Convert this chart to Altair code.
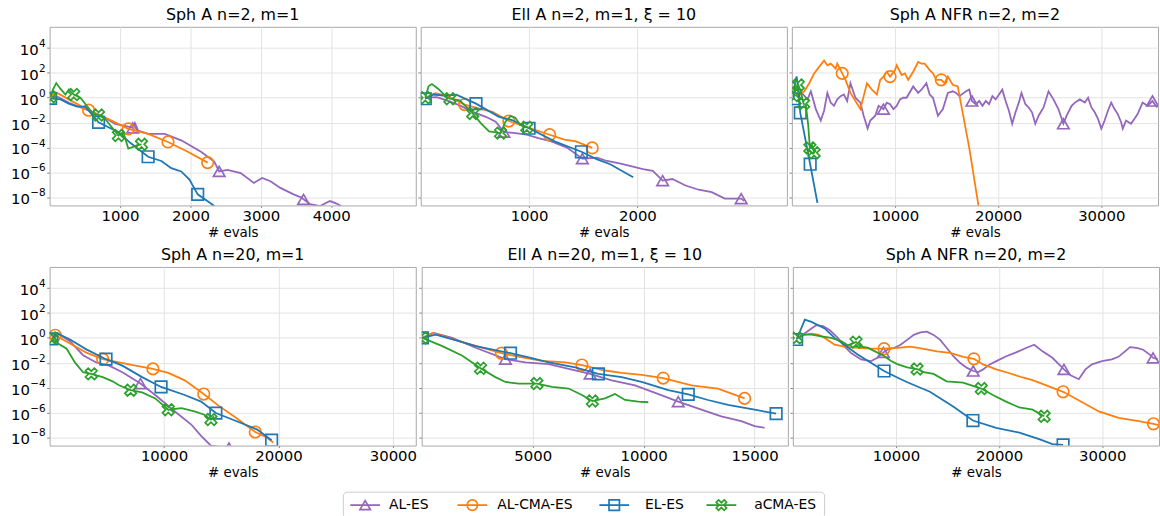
import altair as alt
import pandas as pd

SERIES = ["AL-ES", "AL-CMA-ES", "EL-ES", "aCMA-ES"]
COLORS = ["#9467bd", "#ff7f0e", "#1f77b4", "#2ca02c"]
# thick "X" marker outline in unit coordinates
X_PATH = ("M0.54,-1L1,-0.54L0.46,0L1,0.54L0.54,1L0,0.46L-0.54,1L-1,0.54"
          "L-0.46,0L-1,-0.54L-0.54,-1L0,-0.46Z")
SHAPES = ["triangle-up", "circle", "square", X_PATH]

PANEL_TITLES = [
    "Sph A n=2, m=1", "Ell A n=2, m=1, ξ = 10", "Sph A NFR n=2, m=2",
    "Sph A n=20, m=1", "Ell A n=20, m=1, ξ = 10", "Sph A NFR n=20, m=2",
]
X_MAX = [5200, 3380, 35500, 32000, 16500, 35500]
X_TICKS = [
    [1000, 2000, 3000, 4000], [1000, 2000], [10000, 20000, 30000],
    [10000, 20000, 30000], [5000, 10000, 15000], [10000, 20000, 30000],
]
Y_EXPONENTS = [-8, -6, -4, -2, 0, 2, 4]
Y_LOG_RANGE = [-8.65, 5.7]

# Each curve: list of (evals, log10 f) pairs, then the evals where a marker sits.
SPH2_M1 = {
    "AL-ES": ([(0, 0.1), (125, 0.05), (275, -0.4), (507, -0.92), (742, -1.45), (930, -2.1),
               (1164, -2.37), (1180, -2.42), (1211, -2.03), (1258, -2.63), (1399, -2.9),
               (1634, -2.9), (1869, -3.42), (2150, -4.34), (2338, -5.13), (2408, -5.92),
               (2526, -5.79), (2714, -6.05), (2901, -6.84), (3019, -6.45), (3136, -6.71),
               (3277, -7.24), (3465, -7.76), (3582, -8.03), (3606, -8.16), (3700, -8.55),
               (3840, -8.7), (3981, -8.3), (4075, -8.5), (4169, -8.8)],
              [1180, 2408, 3606]),
    "AL-CMA-ES": ([(0, 0.13), (108, 0.39), (272, -0.13), (554, -1.0), (836, -1.71),
                   (1117, -2.5), (1399, -2.9), (1681, -3.55), (1962, -4.34), (2244, -5.21)],
                  [554, 1117, 1681, 2244]),
    "EL-ES": ([(14, -0.05), (155, -0.13), (272, -0.47), (390, -0.71), (507, -0.71),
               (695, -1.97), (836, -2.37), (977, -2.76), (1141, -3.6), (1399, -4.74),
               (1587, -5.08), (1728, -5.66), (1869, -5.92), (1986, -6.58), (2103, -7.76),
               (2291, -8.5), (2338, -8.7)],
              [14, 695, 1399, 2103]),
    "aCMA-ES": ([(14, 0.08), (47, 0.66), (94, 1.18), (155, 0.71), (225, 0.26), (272, 0.66),
                 (343, 0.26), (437, 0.0), (530, -0.66), (624, -1.32), (695, -1.39),
                 (789, -1.71), (883, -2.37), (977, -3.03), (1047, -2.76), (1117, -4.08),
                 (1188, -3.95), (1235, -3.82), (1305, -3.74)],
                [14, 343, 695, 977, 1305]),
}

ELL2_M1 = {
    "AL-ES": ([(42, 0), (148, 0.05), (239, -0.21), (360, -0.61), (480, -1.13), (601, -1.53),
               (692, -1.92), (767, -2.76), (873, -2.84), (979, -2.97), (1085, -3.24),
               (1205, -3.5), (1356, -4.03), (1492, -4.89), (1628, -4.82), (1719, -5.08),
               (1825, -5.26), (1931, -5.47), (2051, -5.74), (2142, -5.87), (2233, -6.66),
               (2323, -6.53), (2444, -7.05), (2565, -7.39), (2686, -7.58), (2807, -8.1),
               (2958, -8.1), (2988, -8.29)],
              [767, 1492, 2233, 2958]),
    "AL-CMA-ES": ([(42, 0), (133, 0.37), (239, 0.18), (405, -0.55), (541, -0.87),
                   (662, -1.13), (813, -1.87), (964, -2.32), (1190, -2.97), (1326, -3.37),
                   (1432, -3.5), (1583, -4.03)],
                  [405, 813, 1190, 1583]),
    "EL-ES": ([(42, -0.08), (118, 0.26), (208, 0.18), (329, 0.24), (510, -0.47),
               (722, -1.53), (843, -1.79), (1000, -2.45), (1236, -3.5), (1483, -4.34),
               (1628, -4.95), (1749, -5.34), (1961, -6.39)],
              [42, 510, 1000, 1483]),
    "aCMA-ES": ([(42, 0), (72, 0.92), (103, 1.1), (163, 0.71), (239, 0.05), (269, -0.08),
                 (360, -0.21), (480, -1.26), (556, -2.05), (631, -2.71), (737, -2.84),
                 (782, -1.92), (828, -1.47), (873, -1.6), (918, -2.18), (979, -2.37),
                 (1009, -2.45)],
                [42, 269, 480, 737, 979]),
}

NFR2_M2 = {
    "AL-ES": ([(240, 0.18), (1000, 0.35), (1523, -0.13), (1843, 0.52), (2323, -0.91),
               (2803, -1.83), (3123, -1.04), (3443, 0.39), (3763, -0.39), (4083, -0.65),
               (4403, -0.13), (4723, 0.13), (5043, 0.26), (5363, -0.26), (5683, 1.17),
               (6163, 0.0), (6643, -0.39), (6963, -1.44), (7347, -2.48), (7603, -1.83),
               (8083, -1.44), (8403, -0.65), (8883, -0.91), (9203, -0.39), (9523, -0.52),
               (9843, -0.91), (10163, -0.65), (10483, -0.13), (10803, 0.0), (11123, 0.0),
               (11763, 0.91), (12243, 0.39), (12563, 0.65), (13043, 1.17), (13363, 0.26),
               (13683, 0.0), (14163, -1.44), (14643, -0.91), (15123, 0.39), (15603, 0.52),
               (15923, 0.39), (16243, 0.13), (16883, 0.52), (17203, 0.65), (17459, -0.26),
               (17843, -0.52), (18163, -0.26), (18483, -0.65), (18803, -0.26),
               (19123, -0.52), (19443, 0.13), (19763, -0.13), (20083, 0.26), (20403, 0.65),
               (20723, -0.26), (21043, -1.04), (21363, -2.09), (21683, -1.17),
               (22003, -0.39), (22259, 0.39), (22643, -0.52), (22963, -0.78),
               (23283, -1.17), (23603, -2.09), (23923, -1.44), (24403, -0.78), (24883, 0.52),
               (25363, -0.13), (25843, -0.91), (26323, -2.09), (26643, -1.44),
               (27123, -0.65), (27443, -0.39), (27923, -0.13), (28403, -0.39), (28723, 0.0),
               (29043, -0.78), (29363, -1.17), (29683, -1.70), (30003, -2.48),
               (30323, -1.83), (30643, -1.04), (30963, -0.39), (31283, -0.91),
               (31603, -1.31), (31923, -1.96), (32083, -2.48), (32403, -1.83),
               (32883, -2.09), (33203, -1.70), (33523, -1.31), (34003, -0.39),
               (34483, -0.65), (34963, -0.26), (35283, -0.65), (35443, -0.78)],
              [8883, 17459, 26323, 34963]),
    "AL-CMA-ES": ([(240, 0.32), (723, 0.26), (1203, 0.52), (1683, 1.17), (2163, 1.96),
                   (2643, 2.48), (3123, 3.0), (3443, 2.61), (3763, 2.74), (4243, 2.35),
                   (4403, 2.74), (4883, 1.96), (5203, 1.44), (5683, 0.39), (6163, -0.26),
                   (6643, -0.91), (6963, 0.13), (7283, 1.17), (7763, 0.65), (8243, 0.26),
                   (8563, 1.44), (8883, 1.70), (9203, 2.09), (9523, 1.70), (10003, 2.22),
                   (10163, 2.61), (10643, 1.83), (10963, 1.96), (11283, 1.44),
                   (11763, 2.09), (12243, 2.87), (12563, 2.74), (12883, 2.74),
                   (13363, 2.22), (13683, 1.96), (14003, 1.44), (14483, 1.44),
                   (14803, 1.17), (15123, 1.70), (15603, 1.04), (16083, 0.91),
                   (17203, -4.05), (18100, -8.7)],
                  [4883, 9523, 14483]),
    "EL-ES": ([(176, -0.08), (304, 1.24), (464, 1.71), (624, 0.58), (816, -1.21),
               (1776, -5.34), (2480, -8.45)],
              [176, 816, 1776]),
    "aCMA-ES": ([(176, 0.18), (400, 0.84), (624, 1.03), (880, 0.45), (1136, -0.47),
                 (1360, -0.61), (1584, -2.18), (1744, -4.03), (1936, -3.76), (2160, -4.42)],
                [176, 624, 1136, 1744, 2160]),
}

SPH20_M1 = {
    "AL-ES": ([(200, 0.08), (630, 0.39), (1780, -0.26), (2920, -1.39), (4070, -1.97),
               (5210, -2.23), (6360, -2.76), (7940, -3.67), (9230, -4.59), (10950, -5.91),
               (12380, -6.96), (13240, -7.87), (14100, -8.66), (15670, -8.85)],
              [7940, 15670]),
    "AL-CMA-ES": ([(200, 0.13), (490, 0.21), (1780, -0.45), (3210, -1.18), (4640, -1.71),
                   (6070, -1.97), (7510, -2.23), (9030, -2.49), (10370, -2.81),
                   (11810, -3.41), (13470, -4.51), (14670, -5.38), (16100, -6.3),
                   (17970, -7.56), (18970, -8.0), (19540, -8.4)],
                  [490, 4640, 9030, 13470, 17970]),
    "EL-ES": ([(200, -0.08), (630, 0.39), (1780, -0.13), (3210, -0.92), (4930, -1.71),
               (6360, -2.23), (8080, -3.15), (9740, -3.94), (11810, -4.59), (13240, -5.12),
               (14530, -6.04), (16680, -6.82), (18110, -7.35), (19400, -8.22)],
              [200, 4930, 9740, 14530, 19400]),
    "aCMA-ES": ([(200, 0), (630, -0.39), (1490, -0.87), (2210, -1.97), (2920, -2.76),
                 (3640, -2.89), (4640, -3.15), (5500, -3.49), (6070, -3.81), (7080, -4.2),
                 (8080, -4.38), (9230, -4.86), (10370, -5.77), (11520, -5.64),
                 (12660, -5.91), (13520, -6.17), (14100, -6.56), (14380, -6.3)],
                [200, 3640, 7080, 10370, 14100]),
}

ELL20_M1 = {
    "AL-ES": ([(30, 0), (550, 0.39), (1380, 0), (2430, -0.79), (3770, -1.71), (4670, -1.97),
               (5720, -2.1), (6770, -2.55), (7590, -2.89), (8560, -3.41), (9610, -3.81),
               (10580, -4.46), (11560, -5.12), (12600, -5.77), (13500, -6.3),
               (14400, -6.69), (15000, -7.09), (15450, -7.22)],
              [3770, 7590, 11560]),
    "AL-CMA-ES": ([(30, 0), (480, 0.39), (1680, -0.26), (2720, -0.79), (3590, -1.23),
                   (4520, -1.57), (5420, -1.84), (6470, -1.97), (7220, -2.18),
                   (8260, -2.62), (9010, -2.81), (9910, -2.97), (10880, -3.23),
                   (12160, -3.81), (13350, -4.07), (14550, -4.86)],
                  [3590, 7220, 10880, 14550]),
    "EL-ES": ([(30, 0), (630, 0.26), (1680, -0.26), (2430, -0.66), (4000, -1.23),
               (4820, -1.57), (5720, -1.97), (6920, -2.36), (7960, -2.89), (9010, -3.15),
               (9910, -3.54), (11110, -4.2), (12010, -4.54), (12900, -4.99),
               (13800, -5.38), (15000, -5.77), (15970, -6.09)],
              [30, 4000, 7960, 12010, 15970]),
    "aCMA-ES": ([(30, 0), (930, -0.66), (1830, -1.44), (2650, -2.44), (3320, -3.15),
                 (3770, -3.54), (4370, -3.67), (5190, -3.67), (5870, -3.94), (6620, -4.07),
                 (7220, -4.59), (7690, -5.07), (8260, -4.86), (8710, -4.51), (9160, -4.99),
                 (9760, -5.12), (10210, -5.17)],
                [30, 2650, 5190, 7690]),
}

NFR20_M2 = {
    "AL-ES": ([(525, -0.03), (1165, 0.37), (1805, 0.76), (2285, 1.03), (2925, 0.95),
               (3565, 0.63), (4365, 0.0), (5005, -0.68), (5645, -1.21), (6605, -1.73),
               (7565, -1.87), (8205, -1.60), (8781, -1.16), (9165, -0.95), (9805, -0.81),
               (10445, -0.55), (11085, -0.16), (11725, 0.24), (12365, 0.45), (13005, 0.50),
               (13645, 0.24), (14285, -0.16), (14925, -0.81), (15565, -1.47),
               (16205, -2.0), (16845, -2.39), (17485, -2.66), (17965, -2.74),
               (18445, -2.53), (19085, -2.13), (19725, -1.87), (20685, -1.47),
               (21645, -1.16), (22605, -0.81), (23405, -0.55), (24205, -1.08),
               (25165, -1.60), (25805, -2.13), (26285, -2.53), (26925, -3.0),
               (27725, -3.32), (28365, -2.53), (29005, -2.13), (29965, -1.87),
               (30925, -1.73), (31565, -1.52), (32205, -1.08), (32685, -0.74),
               (33325, -0.81), (33965, -0.95), (34605, -1.34), (34925, -1.60),
               (35405, -1.73)],
              [8781, 17485, 26285, 34925]),
    "AL-CMA-ES": ([(525, 0.0), (1165, 0.26), (1805, 0.34), (2445, 0.26), (3085, 0.0),
                   (4045, -0.55), (5005, -0.71), (6285, -0.81), (7565, -0.87),
                   (8845, -0.87), (10125, -0.81), (11405, -0.71), (12685, -0.89),
                   (13965, -1.08), (15245, -1.21), (16525, -1.52), (17549, -1.68),
                   (18445, -2.13), (19725, -2.53), (21005, -2.84), (22285, -3.18),
                   (23240, -3.4), (24700, -3.85), (26200, -4.33), (28060, -5.17),
                   (29660, -5.91), (31590, -6.43), (33520, -6.69), (34960, -6.9),
                   (35440, -7.0)],
                  [8845, 17549, 26200, 34960]),
    "EL-ES": ([(365, -0.13), (1165, 1.47), (1805, 1.29), (3085, 0.76), (4045, 0.0),
               (5005, -0.55), (6285, -1.34), (7565, -2.0), (8845, -2.66), (10125, -3.18),
               (11040, -3.54), (13290, -4.33), (15540, -5.51), (17460, -6.64),
               (19710, -7.22), (21960, -7.61), (23880, -8.14), (25170, -8.53),
               (26200, -8.6)],
              [365, 8845, 17460, 26200]),
    "aCMA-ES": ([(365, 0.0), (1005, 0.26), (1805, 0.26), (2765, 0.13), (3725, 0.0),
                 (4685, -0.26), (5325, -0.6), (6125, -0.34), (6605, -0.71), (7245, -0.79),
                 (8205, -1.18), (8845, -1.45), (9485, -1.84), (10125, -2.11),
                 (11085, -2.37), (12045, -2.5), (12685, -2.76), (13645, -2.89),
                 (14900, -3.49), (16500, -3.6), (18270, -4.07), (19390, -4.59),
                 (20670, -5.12), (21960, -5.59), (23240, -5.77), (24370, -6.3)],
                [365, 6125, 12045, 18270, 24370]),
}

PANELS = [SPH2_M1, ELL2_M1, NFR2_M2, SPH20_M1, ELL20_M1, NFR20_M2]

# legend layout, in pixels from the left of the plot column
LEG_BOX = (296, 781)
LEG_SYMBOL_X = [22, 130, 273, 381]
LEG_TEXT_X = [46, 155, 304, 414]

FONT = "DejaVu Sans"
PANEL_W = [369, 369, 369]
PANEL_H = 180
LINE_W = 1.8
TICK_FS = 15
EXP_FS = 10.5

Y_TICKS = [10.0 ** e for e in Y_EXPONENTS]
Y_SCALE = alt.Scale(type="log", domain=[10 ** Y_LOG_RANGE[0], 10 ** Y_LOG_RANGE[1]],
                    nice=False)


def curve_frame(curves):
    rows = []
    for s in SERIES:
        pts, marks = curves[s]
        for i, (e, lf) in enumerate(pts):
            rows.append({"series": s, "i": i, "evals": e, "f": 10 ** lf,
                         "marker": e in marks})
    return pd.DataFrame(rows)


def y_enc():
    return alt.Y("f:Q", scale=Y_SCALE,
                 axis=alt.Axis(values=Y_TICKS, title=None, tickSize=3, labels=False))


def power_labels():
    """Tick labels drawn as '10' with a raised exponent."""
    df = pd.DataFrame({"f": Y_TICKS,
                       "exp": [str(e).replace("-", "\u2212") for e in Y_EXPONENTS],
                       "neg": [e < 0 for e in Y_EXPONENTS]})
    base = alt.Chart(df)
    right = -4
    w_pos = 0.636 * EXP_FS
    w_neg = (0.636 + 0.838) * EXP_FS
    out = []
    for neg, w in ((False, w_pos), (True, w_neg)):
        sel = alt.datum.neg if neg else ~alt.datum.neg
        out.append(base.transform_filter(sel).mark_text(
            align="right", baseline="middle", fontSize=TICK_FS, font=FONT, color="black",
            dy=2).encode(x=alt.value(right - w - 0.3), y=y_enc(), text=alt.value("10")))
    out.append(base.mark_text(
        align="right", baseline="middle", fontSize=EXP_FS, font=FONT, color="black",
        dy=-4).encode(x=alt.value(right), y=y_enc(), text="exp:N"))
    return out


def panel(k):
    df = curve_frame(PANELS[k])
    col = k % 3
    x = alt.X("evals:Q",
              scale=alt.Scale(domain=[0, X_MAX[k]], nice=False, zero=False),
              axis=alt.Axis(values=X_TICKS[k], format="d", title="# evals",
                            tickSize=2, labelPadding=1, titlePadding=2))
    y = y_enc()
    base = alt.Chart(df)
    layers = []
    for s, c, shp in zip(SERIES, COLORS, SHAPES):
        sub = base.transform_filter(alt.datum.series == s)
        layers.append(sub.mark_line(color=c, strokeWidth=LINE_W, clip=True)
                      .encode(x=x, y=y, order="i:Q"))
        layers.append(sub.transform_filter(alt.datum.marker)
                      .mark_point(shape=shp, color=c, filled=False, size=135,
                                  strokeWidth=1.7, opacity=1, clip=True)
                      .encode(x=x, y=y))
    if col == 0:
        layers += power_labels()
    return alt.layer(*layers).properties(
        width=PANEL_W[col], height=PANEL_H,
        title=alt.TitleParams(PANEL_TITLES[k], fontSize=16, fontWeight="normal",
                              font=FONT, color="black", offset=4, anchor="middle"),
    )


row1 = alt.hconcat(panel(0), panel(1), panel(2), spacing=0)
row2 = alt.hconcat(panel(3), panel(4), panel(5), spacing=0)

# legend strip: a boxed row of line+marker samples under the panels
leg_df = pd.DataFrame({"series": SERIES,
                       "sx": [LEG_BOX[0] + v for v in LEG_SYMBOL_X],
                       "tx": [LEG_BOX[0] + v for v in LEG_TEXT_X]})
strip_w = sum(PANEL_W)
leg_color = alt.Color("series:N", scale=alt.Scale(domain=SERIES, range=COLORS), legend=None)
leg_shape = alt.Shape("series:N", scale=alt.Scale(domain=SERIES, range=SHAPES), legend=None)
leg_x = alt.Scale(domain=[0, strip_w], nice=False, zero=False)
leg_base = alt.Chart(leg_df)
leg_box = alt.Chart(pd.DataFrame({"box": [0]})).mark_rect(
    fill="white", stroke="#cccccc", strokeWidth=1, cornerRadius=4).encode(
    x=alt.value(LEG_BOX[0]), x2=alt.value(LEG_BOX[1]), y=alt.value(0), y2=alt.value(26))
leg_lines = leg_base.transform_calculate(x0="datum.sx - 15", x1="datum.sx + 15").mark_rule(
    strokeWidth=LINE_W).encode(x=alt.X("x0:Q", scale=leg_x, axis=None), x2="x1:Q",
                               y=alt.value(13), color=leg_color)
leg_marks = leg_base.mark_point(filled=False, size=110, strokeWidth=1.7, opacity=1).encode(
    x=alt.X("sx:Q", scale=leg_x, axis=None), y=alt.value(13), color=leg_color,
    shape=leg_shape)
leg_text = leg_base.mark_text(align="left", baseline="middle", fontSize=14, font=FONT,
                              color="black").encode(
    x=alt.X("tx:Q", scale=leg_x, axis=None), y=alt.value(13), text="series:N")
legend = alt.layer(leg_box, leg_lines, leg_marks, leg_text).properties(
    width=strip_w, height=26,
    view=alt.ViewBackground(stroke="transparent"),
)

panels = alt.vconcat(row1, row2, spacing=7)
chart = alt.vconcat(panels, legend, spacing=12).properties(
    padding={"left": 10, "top": 4, "right": 0, "bottom": 0}
).configure(font=FONT).configure_view(stroke="#a8a8a8", strokeWidth=1).configure_axis(
    domain=False, grid=True, gridColor="#e3e3e3", gridWidth=1, tickColor="#8a8a8a",
    labelFont=FONT, labelFontSize=TICK_FS, labelColor="black", titleFont=FONT,
    titleFontSize=13.5, titleFontWeight="normal", titleColor="black",
)

chart.save("out.html", embed_options={"renderer": "svg", "actions": False})
